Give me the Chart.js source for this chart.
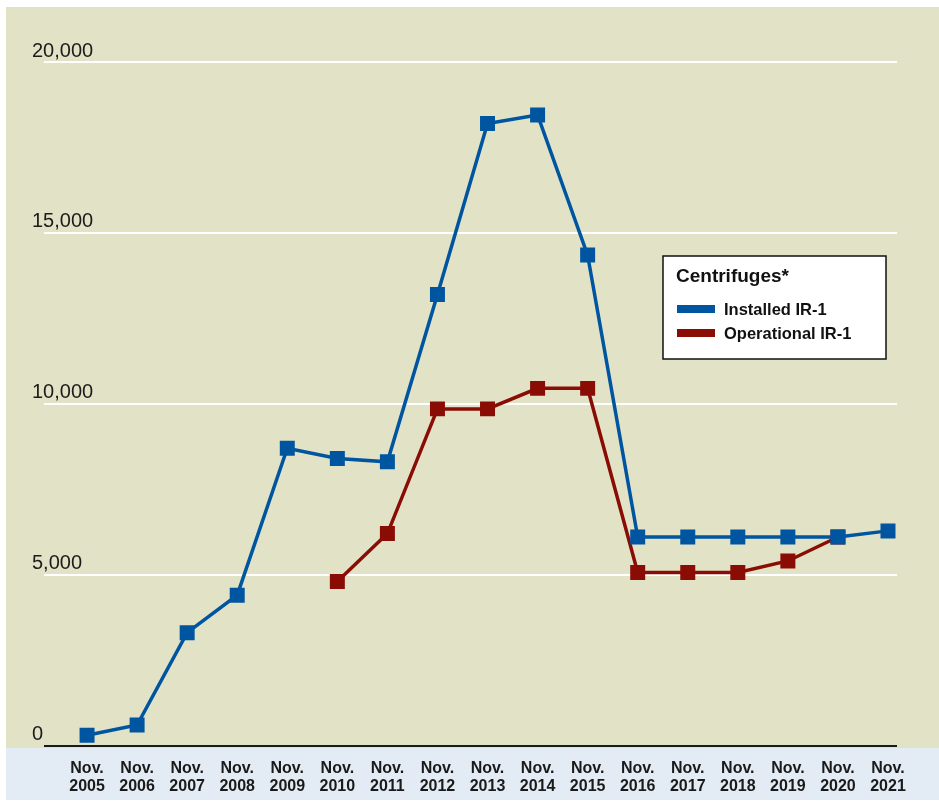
<!DOCTYPE html>
<html>
<head>
<meta charset="utf-8">
<script src="https://cdn.jsdelivr.net/npm/chart.js@4"></script>
<style>
  html, body { margin: 0; padding: 0; background: #fff; }
  #wrap { width: 939px; height: 802px; position: relative; }
</style>
</head>
<body>
<div id="wrap"><canvas id="chart" width="939" height="802"></canvas></div>
<script>
// data
const categories = ["Nov.|2005", "Nov.|2006", "Nov.|2007", "Nov.|2008", "Nov.|2009", "Nov.|2010",
  "Nov.|2011", "Nov.|2012", "Nov.|2013", "Nov.|2014", "Nov.|2015", "Nov.|2016", "Nov.|2017",
  "Nov.|2018", "Nov.|2019", "Nov.|2020", "Nov.|2021"];
const installedIR1 = [300, 600, 3300, 4400, 8700, 8400, 8300, 13200, 18200, 18450, 14350,
  6100, 6100, 6100, 6100, 6100, 6280];
const operationalIR1 = [null, null, null, null, null, 4800, 6200, 9850, 9850, 10450, 10450,
  5060, 5060, 5060, 5400, 6100, null];
const yTicks = [0, 5000, 10000, 15000, 20000];
const legendTitle = "Centrifuges*";

const BEIGE = "#e2e2c6";
const BAND = "#e3ecf4";
const BLUE = "#0055a0";
const RED = "#8a0d05";

const toPoints = (arr) => arr.map((v, i) => ({ x: i, y: v }));

// page background: white frame, beige plot panel, light blue label band
const backdrop = {
  id: "backdrop",
  beforeDraw(chart) {
    const { ctx, width, height, chartArea } = chart;
    ctx.save();
    ctx.fillStyle = "#fff";
    ctx.fillRect(0, 0, width, height);
    const bandTop = chartArea.bottom + 2.5;
    ctx.fillStyle = BEIGE;
    ctx.fillRect(6, 7, width - 6, bandTop - 7);
    ctx.fillStyle = BAND;
    ctx.fillRect(6, bandTop, width - 6, height - 2 - bandTop);
    ctx.restore();
  }
};

// boxed legend inside the plot area
const boxLegend = {
  id: "boxLegend",
  afterDraw(chart) {
    const { ctx, chartArea } = chart;
    const x = chartArea.right - 234, y = 256, w = 223, h = 103;
    ctx.save();
    ctx.fillStyle = "#fff";
    ctx.fillRect(x, y, w, h);
    ctx.strokeStyle = "#111";
    ctx.lineWidth = 1.5;
    ctx.strokeRect(x, y, w, h);
    ctx.fillStyle = "#111";
    ctx.textBaseline = "middle";
    ctx.font = "bold 19px 'Liberation Sans', Arial, sans-serif";
    ctx.fillText(legendTitle, x + 13, y + 21);
    ctx.font = "bold 16.5px 'Liberation Sans', Arial, sans-serif";
    chart.data.datasets.forEach((ds, i) => {
      const cy = y + 53 + i * 24;
      ctx.fillStyle = ds.borderColor;
      ctx.fillRect(x + 14, cy - 4, 38, 8);
      ctx.fillStyle = "#111";
      ctx.fillText(ds.label, x + 61, cy + 1);
    });
    ctx.restore();
  }
};

new Chart(document.getElementById("chart"), {
  type: "line",
  data: {
    datasets: [
      {
        label: "Installed IR-1",
        data: toPoints(installedIR1),
        borderColor: BLUE,
        backgroundColor: BLUE,
        pointBackgroundColor: BLUE,
      },
      {
        label: "Operational IR-1",
        data: toPoints(operationalIR1),
        borderColor: RED,
        backgroundColor: RED,
        pointBackgroundColor: RED,
      },
    ],
  },
  options: {
    responsive: false,
    animation: false,
    events: [],
    layout: { padding: { left: 32, right: 42, top: 62, bottom: 0 } },
    elements: {
      line: { borderWidth: 3.5, tension: 0 },
      point: { pointStyle: "rect", radius: 10.6, borderWidth: 0 },
    },
    plugins: { legend: { display: false }, tooltip: { enabled: false } },
    scales: {
      x: {
        type: "linear",
        min: -0.86,
        max: 16.18,
        afterBuildTicks: (s) => { s.ticks = categories.map((_, i) => ({ value: i })); },
        afterFit: (s) => { s.height = 56.5; },
        grid: { display: false },
        border: { display: false },
        ticks: {
          autoSkip: false,
          maxRotation: 0,
          padding: 6,
          color: "#1a1a1a",
          font: { family: "'Liberation Sans', Arial, sans-serif", size: 16, weight: "bold", lineHeight: 1.125 },
          callback: (v) => categories[v].split("|"),
        },
      },
      y: {
        min: 0,
        max: 20000,
        afterBuildTicks: (s) => { s.ticks = yTicks.map((v) => ({ value: v })); },
        afterFit: (s) => { s.width = 12; },
        border: { display: false },
        grid: {
          drawTicks: false,
          lineWidth: 2,
          color: (c) => (c.tick && c.tick.value === 0 ? "#1a1a1a" : "#ffffff"),
        },
        ticks: {
          mirror: true,
          crossAlign: "near",
          padding: -12,
          labelOffset: -11,
          color: "#1c1c1c",
          font: { family: "'Liberation Sans', Arial, sans-serif", size: 20 },
          callback: (v) => v.toLocaleString("en-US"),
        },
      },
    },
  },
  plugins: [backdrop, boxLegend],
});
</script>
</body>
</html>
